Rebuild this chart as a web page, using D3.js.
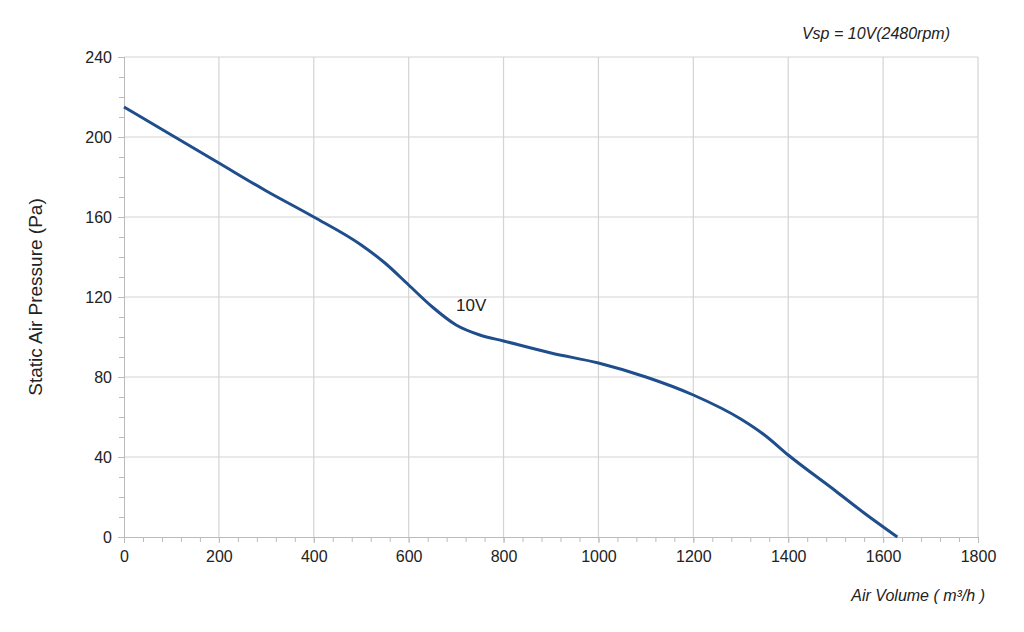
<!DOCTYPE html><html><head><meta charset="utf-8"><script src="https://cdn.jsdelivr.net/npm/d3@7"></script>
<style>body{margin:0;background:#fff}text{font-family:"Liberation Sans",Arial,sans-serif}</style></head><body><svg id="c" width="1024" height="632"></svg><script>
const airVolume=[0,100,200,300,400,500,550,600,650,700,750,800,900,1000,1100,1200,1300,1350,1400,1500,1560,1630];
const pressure=[215,201,187,173,160,146,137,126,115,106,101,98,92,87,80,71,59,51,41,23,12,0];
const xTicks=[0,200,400,600,800,1000,1200,1400,1600,1800];
const yTicks=[0,40,80,120,160,200,240];
const svg=d3.select("#c");
const x=d3.scaleLinear().domain([0,1800]).range([124,978]);
const y=d3.scaleLinear().domain([0,240]).range([537,57]);
const g=svg.append("g");
g.selectAll(".vx").data(xTicks.slice(1)).join("line").attr("x1",d=>x(d)).attr("x2",d=>x(d)).attr("y1",y(0)).attr("y2",y(240)).attr("stroke","#d4d4d4").attr("stroke-width",1.2);
g.selectAll(".hy").data(yTicks.slice(1)).join("line").attr("x1",x(0)).attr("x2",x(1800)).attr("y1",d=>y(d)).attr("y2",d=>y(d)).attr("stroke","#d4d4d4").attr("stroke-width",1.2);
svg.append("g").attr("transform",`translate(0,${y(0)})`).call(d3.axisBottom(x).tickValues(d3.range(0,1801,40)).tickSize(5).tickFormat(""));
svg.append("g").attr("transform",`translate(0,${y(0)})`).call(d3.axisBottom(x).tickValues(xTicks).tickSize(6).tickPadding(8).tickFormat(d3.format("d")));
svg.append("g").attr("transform",`translate(${x(0)},0)`).call(d3.axisLeft(y).tickValues(d3.range(0,241,10)).tickSize(5).tickFormat(""));
svg.append("g").attr("transform",`translate(${x(0)},0)`).call(d3.axisLeft(y).tickValues(yTicks).tickSize(6).tickPadding(6).tickFormat(d3.format("d")));
svg.selectAll(".domain,.tick line").attr("stroke","#bbb");
svg.selectAll(".tick text").attr("font-size",16).attr("fill","#222");
svg.append("path").datum(airVolume.map((v,i)=>[v,pressure[i]])).attr("d",d3.line().x(d=>x(d[0])).y(d=>y(d[1])).curve(d3.curveMonotoneX)).attr("fill","none").attr("stroke","#1f4e8c").attr("stroke-width",3);
svg.append("text").attr("x",x(700)).attr("y",y(113)).attr("font-size",17).attr("fill","#222").text("10V");
svg.append("text").attr("transform",`translate(42,${y(120)}) rotate(-90)`).attr("text-anchor","middle").attr("font-size",19).attr("fill","#222").text("Static Air Pressure  (Pa)");
svg.append("text").attr("x",985).attr("y",601).attr("text-anchor","end").attr("font-size",16).attr("font-style","italic").attr("fill","#222").text("Air Volume ( m³/h )");
svg.append("text").attr("x",950).attr("y",39).attr("text-anchor","end").attr("font-size",16).attr("font-style","italic").attr("fill","#222").text("Vsp = 10V(2480rpm)");
</script></body></html>
